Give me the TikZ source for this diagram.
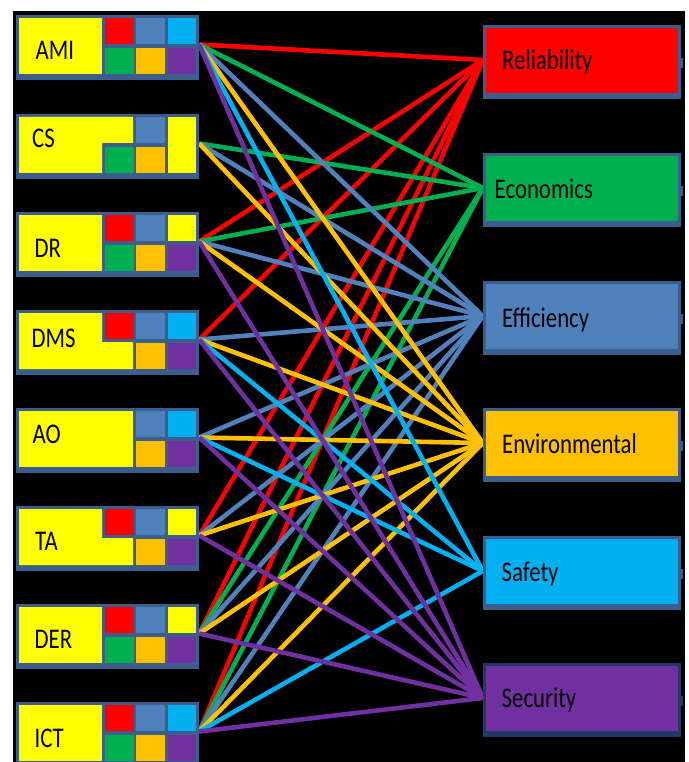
\documentclass[tikz,border=0pt]{standalone}
\usepackage{fontspec}
\setmainfont{Carlito}
\usetikzlibrary{calc}
\definecolor{cred}{HTML}{FF0000}
\definecolor{cgreen}{HTML}{00B050}
\definecolor{cblue}{HTML}{4F81BD}
\definecolor{ccyan}{HTML}{00B0F0}
\definecolor{corange}{HTML}{FFC000}
\definecolor{cpurple}{HTML}{7030A0}
\definecolor{cyellow}{HTML}{FFFF00}
\definecolor{cborder}{HTML}{3B5E8C}
\definecolor{cnavy}{HTML}{203864}
\pgfdeclarelayer{bg}
\pgfdeclarelayer{lines}
\pgfsetlayers{bg,lines,main}
\tikzset{
  lout/.style={rectangle, inner sep=0pt, fill=cborder, minimum width=183pt, minimum height=65pt},
  rout/.style={rectangle, inner sep=0pt, fill=cborder, minimum width=198pt, minimum height=74pt},
  lbl/.style={inner sep=0pt, anchor=base west, font=\fontsize{22.8}{27}\selectfont, text=black},
  conn/.style={line width=4.6pt}
}
% cell: T, x-left, row (3 or 33), colour
\newcommand\Cell[4]{\fill[#4] (#2,#1+#3) rectangle ++(28.5,26);}
\begin{document}
\begin{tikzpicture}[x=1pt,y=-1pt]
\useasboundingbox (0,0) rectangle (688,762);
\begin{pgfonlayer}{bg}
\fill[white] (0,0) rectangle (688,762);
\fill[black] (13,11) rectangle (685,762);
\end{pgfonlayer}

% ---------- left boxes ----------
% AMI (T=15)
\node[lout] (ami) at (107.5,15+32.5) {};
\fill[cyellow] (19,18) rectangle (102,74);
\Cell{15}{105}{3}{cred}\Cell{15}{136}{3}{cblue}\Cell{15}{167.5}{3}{ccyan}
\Cell{15}{105}{33}{cgreen}\Cell{15}{136}{33}{corange}\Cell{15}{167.5}{33}{cpurple}
\node[lbl] (ami-t) at (35.5,60) {\scalebox{1}[1.25]{AMI}};

% CS (T=114)
\node[lout] (cs) at (107.5,114+32.5) {};
\fill[cyellow] (19,117) -- (133,117) -- (133,143) -- (102,143) -- (102,173) -- (19,173) -- cycle;
\fill[cyellow] (167.5,117) rectangle (196,173);
\Cell{114}{136}{3}{cblue}
\Cell{114}{105}{33}{cgreen}\Cell{114}{136}{33}{corange}
\node[lbl] (cs-t) at (32,148) {\scalebox{1}[1.25]{CS}};

% DR (T=212)
\node[lout] (dr) at (107.5,212+32.5) {};
\fill[cyellow] (19,215) rectangle (102,271);
\Cell{212}{105}{3}{cred}\Cell{212}{136}{3}{cblue}\Cell{212}{167.5}{3}{cyellow}
\Cell{212}{105}{33}{cgreen}\Cell{212}{136}{33}{corange}\Cell{212}{167.5}{33}{cpurple}
\node[lbl] (dr-t) at (34.5,257) {\scalebox{1}[1.25]{DR}};

% DMS (T=310)
\node[lout] (dms) at (107.5,310+32.5) {};
\fill[cyellow] (19,313) -- (102,313) -- (102,342) -- (133,342) -- (133,369) -- (19,369) -- cycle;
\Cell{310}{105}{3}{cred}\Cell{310}{136}{3}{cblue}\Cell{310}{167.5}{3}{ccyan}
\Cell{310}{136}{33}{corange}\Cell{310}{167.5}{33}{cpurple}
\node[lbl] (dms-t) at (31.5,347) {\scalebox{1}[1.25]{DMS}};

% AO (T=408)
\node[lout] (ao) at (107.5,408+32.5) {};
\fill[cyellow] (19,411) rectangle (133,467);
\Cell{408}{136}{3}{cblue}\Cell{408}{167.5}{3}{ccyan}
\Cell{408}{136}{33}{corange}\Cell{408}{167.5}{33}{cpurple}
\node[lbl] (ao-t) at (32.5,443) {\scalebox{1}[1.25]{AO}};

% TA (T=506)
\node[lout] (ta) at (107.5,506+32.5) {};
\fill[cyellow] (19,509) -- (102,509) -- (102,538) -- (133,538) -- (133,565) -- (19,565) -- cycle;
\Cell{506}{105}{3}{cred}\Cell{506}{136}{3}{cblue}\Cell{506}{167.5}{3}{cyellow}
\Cell{506}{136}{33}{corange}\Cell{506}{167.5}{33}{cpurple}
\node[lbl] (ta-t) at (35,550) {\scalebox{1}[1.25]{TA}};

% DER (T=604)
\node[lout] (der) at (107.5,604+32.5) {};
\fill[cyellow] (19,607) rectangle (102,663);
\Cell{604}{105}{3}{cred}\Cell{604}{136}{3}{cblue}\Cell{604}{167.5}{3}{cyellow}
\Cell{604}{105}{33}{cgreen}\Cell{604}{136}{33}{corange}\Cell{604}{167.5}{33}{cpurple}
\node[lbl] (der-t) at (34.5,648) {\scalebox{1}[1.25]{DER}};

% ICT (T=702)
\node[lout] (ict) at (107.5,702+32.5) {};
\fill[cyellow] (19,705) rectangle (102,761);
\Cell{702}{105}{3}{cred}\Cell{702}{136}{3}{cblue}\Cell{702}{167.5}{3}{ccyan}
\Cell{702}{105}{33}{cgreen}\Cell{702}{136}{33}{corange}\Cell{702}{167.5}{33}{cpurple}
\node[lbl] (ict-t) at (34.5,747) {\scalebox{1}[1.25]{ICT}};

% ---------- right boxes ----------
\node[rout] (rel) at (582,25+37) {};
\fill[cred] (486,28) rectangle (678,93);
\fill[cborder] (680,58) rectangle (682.5,68);
\node[lbl] (rel-t) at (502,70) {\scalebox{1}[1.25]{Reliability}};

\node[rout] (eco) at (582,153+37) {};
\fill[cgreen] (486,156) rectangle (678,221);
\fill[cborder] (680,186) rectangle (682.5,196);
\node[lbl] (eco-t) at (494.5,198) {\scalebox{1}[1.25]{Economics}};

\node[rout] (eff) at (582,281+37) {};
\fill[cblue] (486,284) rectangle (678,349);
\fill[cborder] (680,314) rectangle (682.5,324);
\node[lbl] (eff-t) at (502,327) {\scalebox{1}[1.25]{Efficiency}};

\node[rout] (env) at (582,408+37) {};
\fill[corange] (486,411) rectangle (678,476);
\fill[cborder] (680,441) rectangle (682.5,451);
\node[lbl] (env-t) at (502,453) {\scalebox{1}[1.25]{Environmental}};

\node[rout] (saf) at (582,536+37) {};
\fill[ccyan] (486,539) rectangle (678,604);
\fill[cborder] (680,569) rectangle (682.5,579);
\node[lbl] (saf-t) at (501.5,581) {\scalebox{1}[1.25]{Safety}};

\node[rout, fill=cnavy] (sec) at (582,663+37) {};
\fill[cpurple] (486,666) rectangle (678,731);
\fill[cnavy] (680,696) rectangle (682.5,706);
\node[lbl] (sec-t) at (501.5,707) {\scalebox{1}[1.25]{Security}};

% ---------- connectors ----------
\begin{pgfonlayer}{lines}
\foreach \s/\t/\c in {
  ami/rel/cred, dr/rel/cred, dms/rel/cred, ta/rel/cred, der/rel/cred, ict/rel/cred,
  ami/eco/cgreen, cs/eco/cgreen, dr/eco/cgreen, der/eco/cgreen, ict/eco/cgreen,
  ami/eff/cblue, cs/eff/cblue, dr/eff/cblue, dms/eff/cblue, ao/eff/cblue, ta/eff/cblue, der/eff/cblue, ict/eff/cblue,
  ami/env/corange, cs/env/corange, dr/env/corange, dms/env/corange, ao/env/corange, ta/env/corange, der/env/corange, ict/env/corange,
  ami/saf/ccyan, dms/saf/ccyan, ao/saf/ccyan, ict/saf/ccyan,
  ami/sec/cpurple, dr/sec/cpurple, dms/sec/cpurple, ao/sec/cpurple, ta/sec/cpurple, der/sec/cpurple, ict/sec/cpurple}
  \draw[conn, \c] ($(\s.east)+(0,-3)$) -- ($(\t.west)+(0,-2)$);
\end{pgfonlayer}
\end{tikzpicture}
\end{document}
